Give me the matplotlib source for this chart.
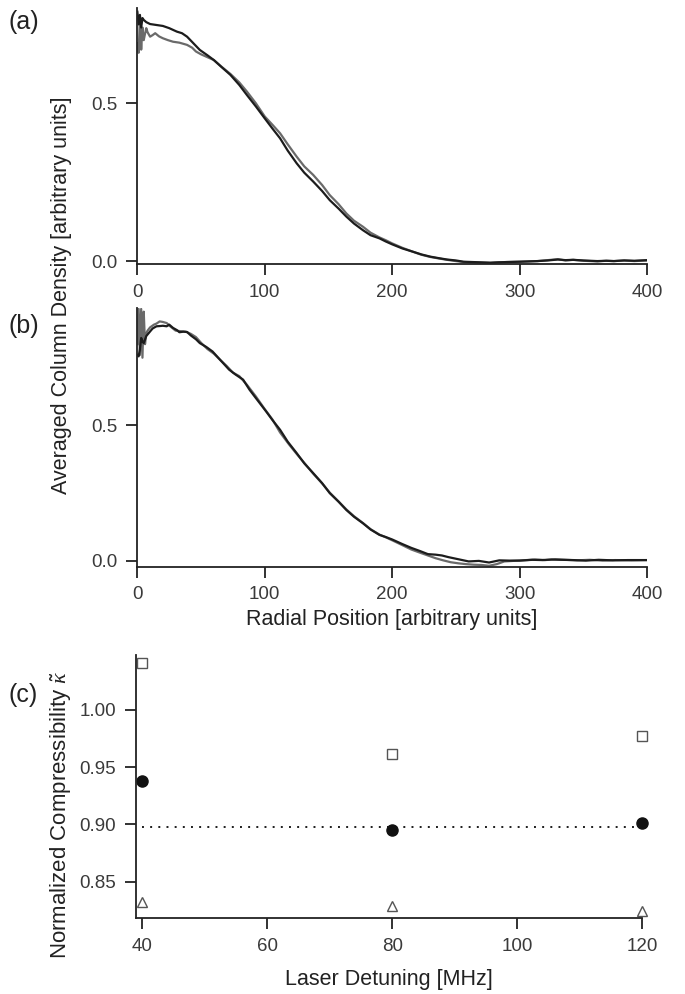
import matplotlib
matplotlib.use('Agg')
import matplotlib.pyplot as plt
import numpy as np

plt.rcParams['font.family'] = ['Liberation Sans', 'DejaVu Sans']
plt.rcParams['mathtext.fontset'] = 'custom'
plt.rcParams['mathtext.it'] = 'Liberation Serif:italic'

# panel (a) profiles, radial position vs averaged column density
r_a_dark = [0, 1, 2, 3, 4, 5, 7, 10, 15, 20, 25, 31, 35, 39, 44, 49, 55, 60, 66, 73, 80, 86, 93,
            100, 106, 112, 118, 125, 131, 138, 145, 151, 158, 164, 170, 177, 183, 190, 195, 200,
            208, 216, 223, 230, 237, 243, 250, 256, 263, 270, 277, 283, 290, 300, 307, 314, 322,
            330, 336, 342, 350, 361, 368, 374, 382, 390, 400]
d_a_dark = [0.79, 0.75, 0.78, 0.74, 0.77, 0.764, 0.757, 0.751, 0.748, 0.745, 0.738, 0.727, 0.722,
            0.711, 0.69, 0.669, 0.652, 0.637, 0.615, 0.59, 0.558, 0.526, 0.49,
            0.452, 0.42, 0.389, 0.35, 0.31, 0.28, 0.252, 0.222, 0.193, 0.166, 0.141, 0.119, 0.098,
            0.082, 0.072, 0.062, 0.053, 0.040, 0.030, 0.021, 0.014, 0.009, 0.005, 0.002, -0.002,
            -0.003, -0.004, -0.005, -0.004, -0.003, -0.002, -0.001, 0.000, 0.002,
            0.005, 0.003, 0.004, 0.002, 0.000, 0.001, 0.000, 0.002, 0.001, 0.003]
r_a_gray = [0, 1, 2, 3, 4, 5, 6, 7, 8, 10, 12, 14, 17, 20, 24, 28, 33, 39, 43, 46, 50, 55, 60,
            66, 73, 80, 86, 93, 100, 106, 112, 118, 125, 131, 138, 145, 151, 158, 164, 170, 177,
            183, 190, 195, 200, 208, 216, 223, 230, 237, 243, 250, 256, 263, 270, 277, 283, 290,
            300, 307, 314, 322, 330, 336, 342, 350, 361, 368, 374, 382, 390, 400]
d_a_gray = [0.69, 0.66, 0.77, 0.67, 0.74, 0.70, 0.72, 0.738, 0.725, 0.711, 0.716, 0.722, 0.712,
            0.706, 0.700, 0.695, 0.692, 0.685, 0.676, 0.664, 0.655, 0.646, 0.637,
            0.616, 0.593, 0.566, 0.537, 0.50, 0.458, 0.432, 0.405, 0.37, 0.331, 0.30, 0.273,
            0.241, 0.209, 0.18, 0.151, 0.128, 0.109, 0.090, 0.075, 0.066, 0.056, 0.042, 0.030,
            0.020, 0.013, 0.008, 0.004, 0.000, -0.003, -0.004, -0.005, -0.006, -0.004, -0.003,
            -0.002, -0.001, 0.000, 0.003, 0.006, 0.002, 0.004, 0.001, -0.001, 0.001, 0.000,
            0.002, 0.000, 0.002]

# panel (b) profiles
r_b_dark = [0, 1, 2, 3, 4, 5, 7, 10, 12, 15, 18, 20, 23, 25, 28, 31, 33, 36, 39, 42, 46, 49, 54,
            59, 65, 72, 77, 83, 88, 93, 101, 106, 112, 118, 125, 131, 138, 145, 151, 158, 164,
            170, 177, 183, 190, 195, 200, 208, 215, 222, 228, 234, 239, 244, 249, 255, 260, 268,
            276, 284, 292, 300, 310, 318, 325, 333, 342, 352, 362, 373, 385, 400]
d_b_dark = [0.76, 0.755, 0.78, 0.823, 0.81, 0.804, 0.83, 0.847, 0.858, 0.866, 0.867, 0.868, 0.866,
            0.872, 0.86, 0.852, 0.844, 0.846, 0.845, 0.832, 0.818, 0.804, 0.79,
            0.773, 0.742, 0.706, 0.688, 0.669, 0.632, 0.601, 0.552, 0.52, 0.484, 0.44, 0.398,
            0.36, 0.324, 0.287, 0.25, 0.218, 0.188, 0.163, 0.139, 0.116, 0.096, 0.088, 0.079,
            0.062, 0.048, 0.036, 0.025, 0.023, 0.020, 0.014, 0.009, 0.003, -0.002, 0.000,
            -0.006, 0.002, 0.001, 0.001, 0.004, 0.003, 0.005, 0.004, 0.003, 0.001, 0.004, 0.002,
            0.003, 0.003]
r_b_gray = [0, 1, 2, 3, 4, 5, 6, 7, 8, 10, 13, 15, 17.5, 20, 23, 26, 30, 34, 38, 42, 46, 50, 55,
            60, 65, 70, 75, 80, 86, 93, 100, 106, 112, 119, 125, 131, 138, 145, 151, 158, 164,
            170, 177, 183, 190, 195, 200, 208, 215, 222, 228, 234, 240, 246, 252, 258, 264, 270,
            276, 282, 288, 295, 302, 312, 320, 328, 336, 345, 355, 365, 375, 388, 400]
d_b_gray = [0.80, 0.93, 0.76, 0.93, 0.75, 0.92, 0.80, 0.84, 0.85, 0.862, 0.872, 0.876, 0.884,
            0.882, 0.878, 0.865, 0.85, 0.848, 0.846, 0.838, 0.826, 0.805, 0.782,
            0.765, 0.742, 0.72, 0.695, 0.682, 0.65, 0.607, 0.56, 0.522, 0.474, 0.43, 0.395,
            0.362, 0.322, 0.286, 0.252, 0.219, 0.19, 0.165, 0.14, 0.117, 0.097, 0.087, 0.076,
            0.058, 0.042, 0.030, 0.020, 0.010, 0.002, -0.005, -0.009, -0.012, -0.014, -0.015,
            -0.018, -0.012, -0.002, 0.000, 0.002, 0.005, 0.003, 0.006, 0.004, 0.002, 0.004,
            0.001, 0.003, 0.002, 0.003]

# panel (c) normalized compressibility vs laser detuning
detuning = [40, 80, 120]
kappa_square = [1.041, 0.961, 0.977]
kappa_circle = [0.938, 0.895, 0.901]
kappa_triangle = [0.832, 0.829, 0.824]
kappa_mean = 0.898

dark = '#1c1c1c'
gray = '#6a6a6a'
txt = '#3a3a3a'

fig = plt.figure(figsize=(6.85, 9.94), dpi=100)


def style(ax):
    for s in ['top', 'right']:
        ax.spines[s].set_visible(False)
    for s in ['left', 'bottom']:
        ax.spines[s].set_linewidth(1.3)
        ax.spines[s].set_color('#222222')
    ax.tick_params(direction='out', length=8, width=1.3, color='#222222',
                   labelsize=13.5, labelcolor=txt, pad=6)


ax_a = fig.add_axes([0.1996, 0.734, 0.745, 0.258])
ax_a.plot(r_a_gray, d_a_gray, color=gray, lw=1.6)
ax_a.plot(r_a_dark, d_a_dark, color=dark, lw=1.6)
ax_a.set_xlim(-0.5, 400)
ax_a.set_ylim(-0.0105, 0.802)
ax_a.set_xticks([0, 100, 200, 300, 400])
ax_a.set_yticks([0.0, 0.5])
ax_a.set_yticklabels(['0.0', '0.5'])
style(ax_a)

ax_b = fig.add_axes([0.1996, 0.430, 0.745, 0.260])
ax_b.plot(r_b_gray, d_b_gray, color=gray, lw=1.6)
ax_b.plot(r_b_dark, d_b_dark, color=dark, lw=1.6)
ax_b.set_xlim(-0.5, 400)
ax_b.set_ylim(-0.021, 0.933)
ax_b.set_xticks([0, 100, 200, 300, 400])
ax_b.set_yticks([0.0, 0.5])
ax_b.set_yticklabels(['0.0', '0.5'])
ax_b.set_xlabel('Radial Position [arbitrary units]', fontsize=15.5, color='#222222', labelpad=4)
style(ax_b)

ax_c = fig.add_axes([0.198, 0.0762, 0.739, 0.265])
ax_c.plot([detuning[0], detuning[-1]], [kappa_mean, kappa_mean], ls=(0, (1, 3.2)),
          color=dark, lw=1.4)
ax_c.plot(detuning, kappa_square, ls='none', marker='s', ms=7, mfc='white',
          mec='#555555', mew=1.0, clip_on=False)
ax_c.plot(detuning, kappa_circle, ls='none', marker='o', ms=8, color='#111111',
          clip_on=False)
ax_c.plot(detuning, kappa_triangle, ls='none', marker='^', ms=7, mfc='white',
          mec='#555555', mew=1.0, clip_on=False)
ax_c.set_xlim(38.9, 120)
ax_c.set_ylim(0.818, 1.048)
ax_c.set_xticks([40, 60, 80, 100, 120])
ax_c.set_yticks([0.85, 0.90, 0.95, 1.00])
ax_c.set_yticklabels(['0.85', '0.90', '0.95', '1.00'])
ax_c.set_xlabel('Laser Detuning [MHz]', fontsize=15.5, color='#222222', labelpad=10)
style(ax_c)

fig.text(0.09, 0.703, 'Averaged Column Density [arbitrary units]', rotation=90,
         ha='center', va='center', fontsize=15.5, color='#222222')
fig.text(0.09, 0.18, r'Normalized Compressibility $\tilde{\kappa}$', rotation=90,
         ha='center', va='center', fontsize=16, color='#222222')

fig.text(0.012, 0.978, '(a)', fontsize=18, color='#222222', va='center')
fig.text(0.012, 0.672, '(b)', fontsize=18, color='#222222', va='center')
fig.text(0.012, 0.301, '(c)', fontsize=18, color='#222222', va='center')

fig.savefig('out.png', dpi=100)
